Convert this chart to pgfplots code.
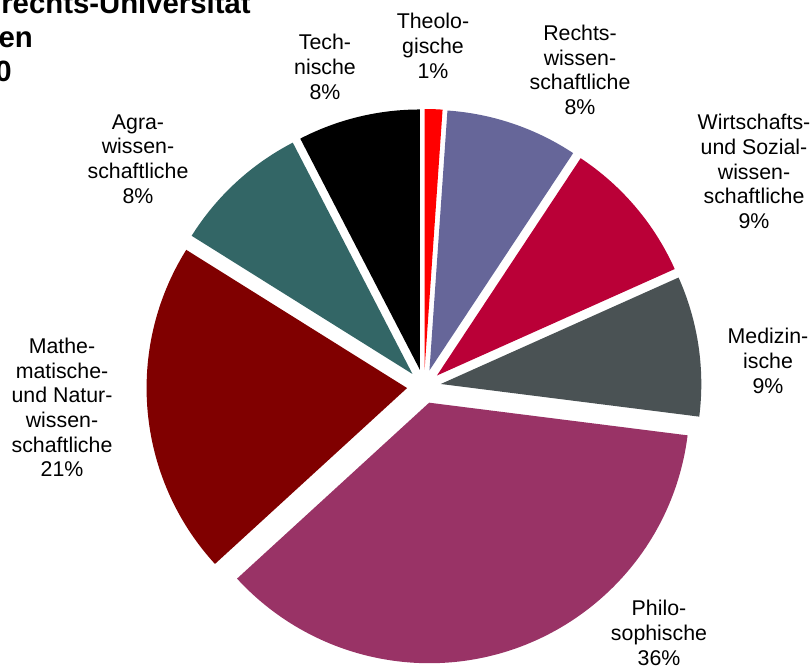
\documentclass[border=0pt]{standalone}
\usepackage{pgfplots}
\usepackage{pgfplotstable}
\pgfplotsset{compat=1.18}
\usepackage{fontspec}
\setmainfont{Liberation Sans}

\definecolor{theo}{HTML}{FF0000}
\definecolor{rechts}{HTML}{666699}
\definecolor{wiso}{HTML}{BA0037}
\definecolor{med}{HTML}{4A5254}
\definecolor{phil}{HTML}{993366}
\definecolor{matnat}{HTML}{800000}
\definecolor{agrar}{HTML}{336666}
\definecolor{tech}{HTML}{000000}

% share of students per faculty (percent), clockwise from 12 o'clock
\pgfplotstableread{
fak pct col
Theologische 1.1 theo
Rechtswissenschaftliche 8.2 rechts
WiSo 9.0 wiso
Medizinische 8.7 med
Philosophische 36.2 phil
MatNat 20.7 matnat
Agrar 8.5 agrar
Technische 7.6 tech
}\piedata

\tikzset{lbl/.style={font=\fontsize{16}{18.5}\selectfont, align=center, text=black, inner sep=0pt},
  ttl/.style={font=\bfseries\fontsize{22}{25}\selectfont, anchor=base east, inner sep=0pt}}

\def\piecx{424}\def\piecy{280.5}\def\pierad{260.5}\def\pieoff{17}

\begin{document}
\begin{tikzpicture}
\begin{axis}[x=0.75pt, y=0.75pt, xmin=0, xmax=811, ymin=0, ymax=667,
    hide axis, clip=false]
  \pgfmathsetmacro\piecum{0}
  \pgfplotsforeachungrouped \pieidx in {0,...,7}{
    \pgfplotstablegetelem{\pieidx}{pct}\of\piedata \let\pieval\pgfplotsretval
    \pgfplotstablegetelem{\pieidx}{col}\of\piedata \let\piecol\pgfplotsretval
    \pgfmathsetmacro\pieA{90-3.6*\piecum}
    \pgfmathsetmacro\pieB{90-3.6*(\piecum+\pieval)}
    \pgfmathsetmacro\pieM{(\pieA+\pieB)/2}
    \pgfmathsetmacro\pieox{\piecx+\pieoff*cos(\pieM)}
    \pgfmathsetmacro\pieoy{\piecy+\pieoff*sin(\pieM)}
    \pgfmathsetmacro\piexA{\pieox+\pierad*cos(\pieA)}
    \pgfmathsetmacro\pieyA{\pieoy+\pierad*sin(\pieA)}
    \pgfmathsetmacro\pierr{0.75*\pierad}
    \edef\pietemp{\noexpand\fill[\piecol] (axis cs:\pieox,\pieoy) -- (axis cs:\piexA,\pieyA)
      arc[start angle=\pieA, end angle=\pieB, radius=\pierr pt] -- cycle;}
    \pietemp
    \pgfmathsetmacro\piecum{\piecum+\pieval}
  }

  \node[lbl] at (axis cs:433,621) {Theolo-\\gische\\1\%};
  \node[lbl] at (axis cs:580,597) {Rechts-\\wissen-\\schaftliche\\8\%};
  \node[lbl] at (axis cs:754,495.5) {Wirtschafts-\\und Sozial-\\wissen-\\schaftliche\\9\%};
  \node[lbl] at (axis cs:768,306) {Medizin-\\ische\\9\%};
  \node[lbl] at (axis cs:659,34) {Philo-\\sophische\\36\%};
  \node[lbl] at (axis cs:62,259.5) {Mathe-\\matische-\\und Natur-\\wissen-\\schaftliche\\21\%};
  \node[lbl] at (axis cs:138,508) {Agra-\\wissen-\\schaftliche\\8\%};
  \node[lbl] at (axis cs:325,600) {Tech-\\nische\\8\%};

  \node[ttl] at (axis cs:251,653) {rechts-Universität};
  \node[ttl] at (axis cs:33,619) {en};
  \node[ttl] at (axis cs:12,585) {0};
\end{axis}
\pgfresetboundingbox
\useasboundingbox (0,0) rectangle (608.25pt,500.25pt);
\end{tikzpicture}
\end{document}
